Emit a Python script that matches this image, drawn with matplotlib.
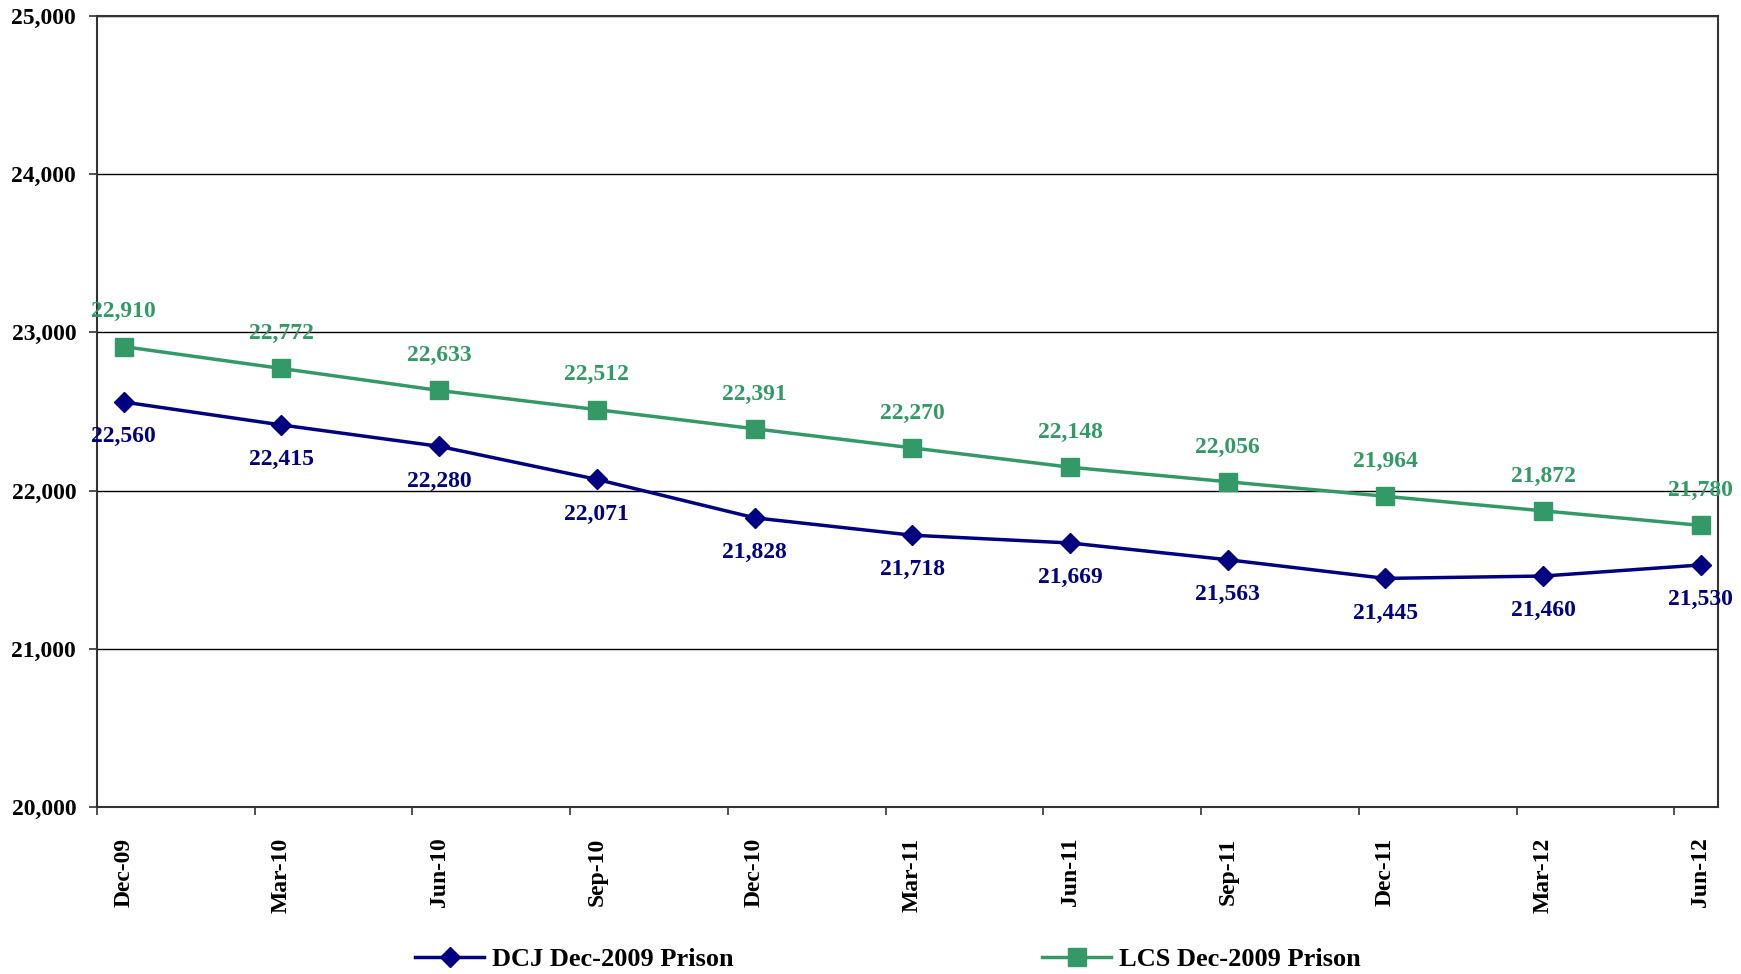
import matplotlib
matplotlib.use("Agg")
import matplotlib.pyplot as plt
from matplotlib.ticker import FuncFormatter, FixedLocator

categories = ["Dec-09", "Mar-10", "Jun-10", "Sep-10", "Dec-10", "Mar-11",
              "Jun-11", "Sep-11", "Dec-11", "Mar-12", "Jun-12"]
dcj = [22560, 22415, 22280, 22071, 21828, 21718, 21669, 21563, 21445, 21460, 21530]
lcs = [22910, 22772, 22633, 22512, 22391, 22270, 22148, 22056, 21964, 21872, 21780]
yticks = [20000, 21000, 22000, 23000, 24000, 25000]

plt.rcParams['font.family'] = ['Liberation Serif', 'DejaVu Serif']
plt.rcParams['font.weight'] = 'bold'

NAVY = "#000080"
GREEN = "#339966"

fig = plt.figure(figsize=(17.41, 9.74), dpi=100)
ax = fig.add_axes([97/1741, 1 - 807/974, (1718-97)/1741, (807-16)/974])

x = list(range(len(categories)))
ax.plot(x, dcj, color=NAVY, lw=2.5, marker='D', ms=10, label="DCJ Dec-2009 Prison", zorder=3)
ax.plot(x, lcs, color=GREEN, lw=2.5, marker='s', ms=13, label="LCS Dec-2009 Prison", zorder=3)

for xi, v in zip(x, dcj):
    ax.annotate(f"{v:,}", (xi, v), xytext=(0, -25), textcoords='offset points',
                ha='center', va='center', color=NAVY, fontsize=17, fontweight='bold',
                annotation_clip=False)
for xi, v in zip(x, lcs):
    ax.annotate(f"{v:,}", (xi, v), xytext=(0, 25), textcoords='offset points',
                ha='center', va='center', color=GREEN, fontsize=17, fontweight='bold',
                annotation_clip=False)

off = 26.5/157
ax.set_xlim(-off, len(categories) - 1 + (1718-1701)/157)
ax.set_ylim(20000, 25000)
ax.set_yticks(yticks)
ax.yaxis.set_major_formatter(FuncFormatter(lambda v, p: f"{int(v):,}"))
ax.tick_params(axis='y', labelsize=17, length=6, width=1.2, pad=9, color='#333333')
ax.grid(axis='y', color='black', lw=1.0)
ax.set_axisbelow(True)

ax.set_xticks(x)
ax.set_xticklabels(categories, rotation=90, fontsize=17, fontweight='bold')
ax.tick_params(axis='x', which='major', length=0, pad=22)
ax.xaxis.set_minor_locator(FixedLocator([xi - off for xi in x]))
ax.tick_params(axis='x', which='minor', length=6, width=1.2, color='#333333')
for lbl in ax.get_yticklabels():
    lbl.set_fontweight('bold')

for s in ax.spines.values():
    s.set_color('#333333')
    s.set_linewidth(1.5)

leg = fig.legend(loc='center', ncol=2, bbox_to_anchor=(0.51, 0.015), frameon=False,
                 prop={'size': 19, 'weight': 'bold'}, handlelength=2.6, columnspacing=11.7,
                 handletextpad=0.3, borderpad=0)

fig.savefig("out.png", dpi=100, facecolor='white')
